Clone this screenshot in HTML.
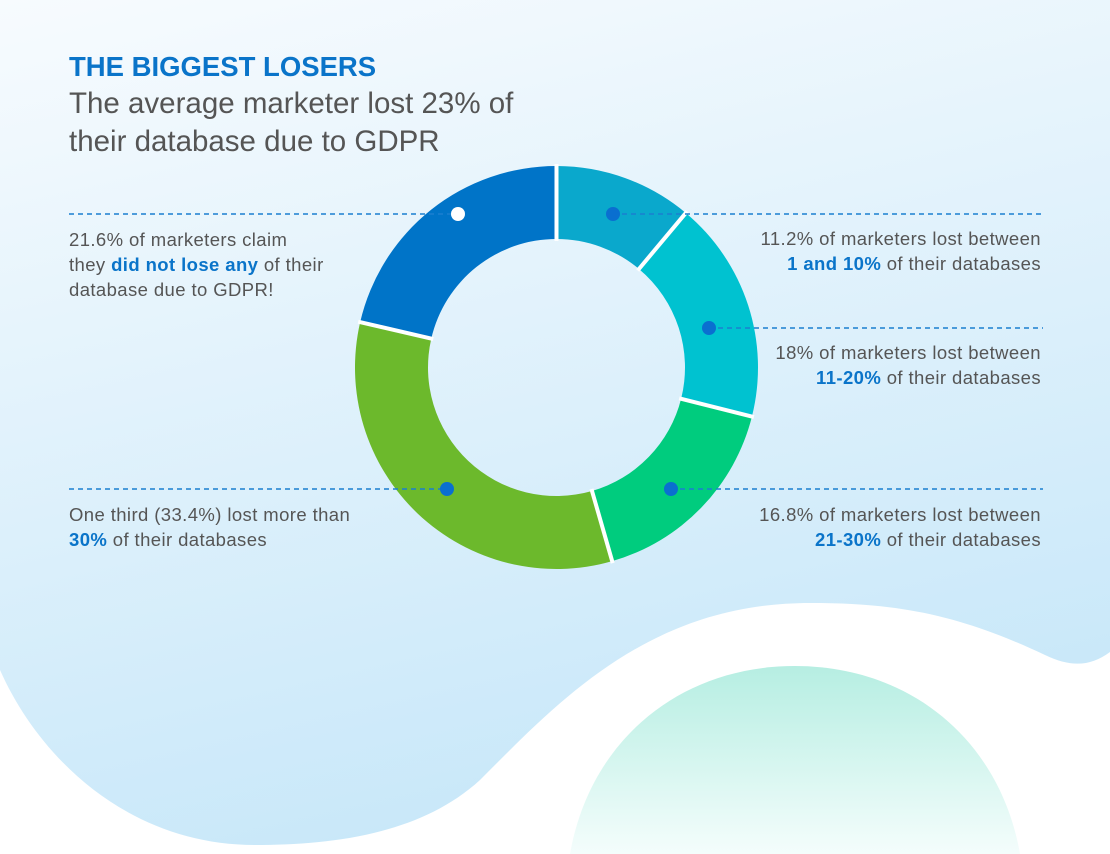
<!DOCTYPE html>
<html><head><meta charset="utf-8"><style>
body{margin:0;width:1110px;height:854px;overflow:hidden;font-family:"Liberation Sans",sans-serif}
svg{display:block}
</style></head><body>
<svg width="1110" height="854">
<defs>
<linearGradient id="bg" x1="0" y1="0" x2="0.3" y2="1"><stop offset="0" stop-color="#f7fbfe"/><stop offset="1" stop-color="#c9e8f9"/></linearGradient>
<linearGradient id="gr" x1="0" y1="0" x2="0" y2="1"><stop offset="0" stop-color="#b6eee2"/><stop offset="1" stop-color="#f4fdfc"/></linearGradient>
</defs>
<rect width="1110" height="854" fill="#fff"/>
<path fill="url(#bg)" d="M0,0 H1110 V652 C1090,667 1070,667 1045,655 C960,615 900,603 810,603 C650,603 560,700 480,780 C420,835 330,845 255,845 C130,845 40,760 0,670 Z"/>
<path fill="url(#gr)" d="M570,854 C590,740 680,666 795,666 C910,666 1000,740 1020,854 Z"/>
<text x="69" y="76" font-size="27.5" font-weight="bold" fill="#0a74c9">THE BIGGEST LOSERS</text>
<text x="69" y="113" font-size="29.5" fill="#555">The average marketer lost 23% of</text>
<text x="69" y="151" font-size="29.5" fill="#555">their database due to GDPR</text>
<g id="donut"></g>
<g stroke="#1a7fd0" stroke-width="1.5" stroke-dasharray="5,4">
<line x1="69" y1="214" x2="458" y2="214"/><line x1="613" y1="214" x2="1043" y2="214"/>
<line x1="709" y1="328" x2="1043" y2="328"/><line x1="671" y1="489" x2="1043" y2="489"/>
<line x1="69" y1="489" x2="447" y2="489"/>
</g>
<circle cx="458" cy="214" r="7" fill="#fff"/>
<circle cx="613" cy="214" r="7" fill="#0a6fd0"/>
<circle cx="709" cy="328" r="7" fill="#0a6fd0"/>
<circle cx="671" cy="489" r="7" fill="#0a6fd0"/>
<circle cx="447" cy="489" r="7" fill="#0a6fd0"/>
<g font-size="18.5" fill="#555" letter-spacing="0.4">
<g>
<text x="69" y="246">21.6% of marketers claim</text>
<text x="69" y="271">they <tspan font-weight="bold" fill="#0a74c9">did not lose any</tspan> of their</text>
<text x="69" y="296">database due to GDPR!</text></g>
<g text-anchor="end">
<text x="1041" y="245">11.2% of marketers lost between</text>
<text x="1041" y="270"><tspan font-weight="bold" fill="#0a74c9">1 and 10%</tspan> of their databases</text></g>
<g text-anchor="end">
<text x="1041" y="359">18% of marketers lost between</text>
<text x="1041" y="384"><tspan font-weight="bold" fill="#0a74c9">11-20%</tspan> of their databases</text></g>
<g text-anchor="end">
<text x="1041" y="521">16.8% of marketers lost between</text>
<text x="1041" y="546"><tspan font-weight="bold" fill="#0a74c9">21-30%</tspan> of their databases</text></g>
<g>
<text x="69" y="521">One third (33.4%) lost more than</text>
<text x="69" y="546"><tspan font-weight="bold" fill="#0a74c9">30%</tspan> of their databases</text></g>
</g>
</svg>
<script>
const categories=["1-10%","11-20%","21-30%","30%+","none"];
const values=[11.2,18,16.8,33.4,21.6];
const colors=["#0aa8cc","#00c2d0","#00cc7e","#6cb92c","#0074c8"];
const cx=556.5,cy=367.5,R=201.5,r=128.5;
const g=document.getElementById('donut');
const NS='http://www.w3.org/2000/svg';
const total=values.reduce((a,b)=>a+b,0);
function pt(a,rad){return [cx+rad*Math.sin(a),cy-rad*Math.cos(a)];}
let acc=0;const bounds=[];
values.forEach((v,i)=>{
  const a0=acc/total*2*Math.PI,a1=(acc+v)/total*2*Math.PI;acc+=v;bounds.push(a0);
  const large=(a1-a0)>Math.PI?1:0;
  const p0=pt(a0,R),p1=pt(a1,R),q1=pt(a1,r),q0=pt(a0,r);
  const p=document.createElementNS(NS,'path');
  p.setAttribute('d',`M${p0} A${R},${R} 0 ${large} 1 ${p1} L${q1} A${r},${r} 0 ${large} 0 ${q0} Z`);
  p.setAttribute('fill',colors[i]);
  
  
  g.appendChild(p);
});
bounds.forEach(a=>{
  const l=document.createElementNS(NS,'line');
  const o=pt(a,R+2),n=pt(a,r-2);
  l.setAttribute('x1',o[0]);l.setAttribute('y1',o[1]);l.setAttribute('x2',n[0]);l.setAttribute('y2',n[1]);
  l.setAttribute('stroke','#fff');l.setAttribute('stroke-width','4');
  
  
  g.appendChild(l);
});
</script>
</body></html>
